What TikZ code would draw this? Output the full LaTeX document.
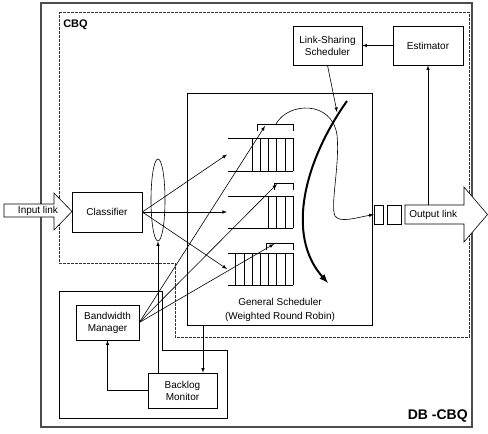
\documentclass[tikz,border=0pt]{standalone}
\usepackage{fontspec}
\setmainfont{Liberation Sans}
\usetikzlibrary{calc, shapes.geometric, positioning}

\tikzset{
    blk/.style={draw, align=center, inner sep=0pt,
        font=\fontsize{10}{12}\selectfont},
    lbl/.style={inner sep=0pt, align=center, font=\fontsize{10}{12}\selectfont},
    slot/.style={draw, minimum height=19pt, inner sep=0pt},
}

\begin{document}
\begin{tikzpicture}[>=latex, x=1pt, y=-1pt, line width=0.6pt]
    \useasboundingbox (0,0) rectangle (488,434);
    % khung DB-CBQ
    \draw[line width=1.1pt, black!70] (41,3) rectangle (472,427);
    \node[anchor=base east, inner sep=0pt, font=\bfseries\fontsize{14}{16}\selectfont] (dbcbq) at (468,419) {DB -CBQ};
    % vung CBQ
    \draw[dash pattern=on 3pt off 1pt, black!80] (59,12) -- (469,12) -- (469,337) -- (175,337) -- (175,263) -- (59,263) -- cycle;
    \node[anchor=north west, inner sep=0pt, font=\bfseries\fontsize{11}{13}\selectfont] (cbq) at (63,20) {CBQ};
    % vung quan ly bang thong
    \draw (59,291) -- (162,291) -- (162,350) -- (227,350) -- (227,418) -- (59,418) -- cycle;

    % bo lap lich chung
    \node[draw, minimum width=185pt, minimum height=232pt] (gs) at (279.5,209) {};
    \node[lbl, font=\fontsize{10}{14}\selectfont] (gslabel) at (280,310) {General Scheduler\\(Weighted Round Robin)};

    % cac khoi
    \node[blk, minimum width=70pt, minimum height=40pt] (cls) at (107,212) {Classifier};
    \node[blk, minimum width=63pt, minimum height=35pt] (bwm) at (107.5,322.5) {Bandwidth\\Manager};
    \node[blk, minimum width=69pt, minimum height=35pt] (blm) at (182.5,390.5) {Backlog\\Monitor};
    \node[blk, minimum width=69pt, minimum height=39pt] (lss) at (327.5,45.5) {Link-Sharing\\Scheduler};
    \node[blk, minimum width=70pt, minimum height=39pt] (est) at (428,45.5) {Estimator};
    \node[draw, ellipse, minimum width=14pt, minimum height=82pt, inner sep=0pt] (bundle) at (158,200) {};

    % duong vao, duong ra
    \draw[fill=white] (4,204) -- (54,204) -- (54,193) -- (72,211.5) -- (54,230) -- (54,217) -- (4,217) -- cycle;
    \node[lbl] (inlink) at (38,210.5) {Input link};
    \draw[fill=white] (405,205) -- (464,205) -- (464,187) -- (487.5,214.5) -- (464,242) -- (464,224) -- (405,224) -- cycle;
    \node[lbl, anchor=west] (outlink) at (409,214.5) {Output link};
    \node[slot, minimum width=9pt] (slot1) at (378.5,214.5) {};
    \node[slot, minimum width=14pt] (slot2) at (394,214.5) {};

    % hang doi
    \foreach \i/\yt/\yb/\k/\xb/\ybr in {1/138/171/5/257/124, 2/196/228/3/274/183, 3/253/285/7/266/243} {
        \draw (228,\yt) -- (293,\yt) (228,\yb) -- (293,\yb);
        \foreach \n in {0,...,\k}
            \draw ({293-8.2*\n},\yt) -- ({293-8.2*\n},\yb);
        \draw (\xb,\ybr+7) -- (\xb,\ybr) -- (293,\ybr) -- (293,\ybr+7);
        \coordinate (in\i) at (227,{(\yt+\yb)/2});
    }
    \coordinate (t1) at (265,126);
    \coordinate (t2) at (277,184);
    \coordinate (t3) at (274,244);

    \foreach \i in {1,2,3} {
        \draw[->] (cls.east) -- (in\i);
        \draw[->] (bwm.east) -- (t\i);
    }

    % vong lap lich
    \coordinate (loopstart) at (276,124);
    \draw[->] (loopstart) .. controls (288,102) and (332,100) .. (337,135)
        .. controls (340,165) and (330,205) .. (335,216)
        .. controls (340,223) and (355,218) .. (slot1.west);
    \coordinate (rrtop) at (347,101);
    \coordinate (rrend) at (328,283);
    \draw[->, line width=2pt] (rrtop) .. controls (305,160) and (285,235) .. (rrend);
    \coordinate (lsshit) at (337,112);
    \draw[->] (lss.south) -- (lsshit);

    % phan hoi
    \draw[->] (est.west) -- (lss.east);
    \coordinate (outtop) at (428,205);
    \draw[->] (outtop) -- (est.south);
    \coordinate (gsout) at (203,325);
    \draw[->] (gsout) -- (gsout |- blm.north);
    \draw[->] (blm.west) -| (bwm.south);
    \draw[->] (bundle.south |- blm.north) -- (bundle.south);
\end{tikzpicture}
\end{document}
